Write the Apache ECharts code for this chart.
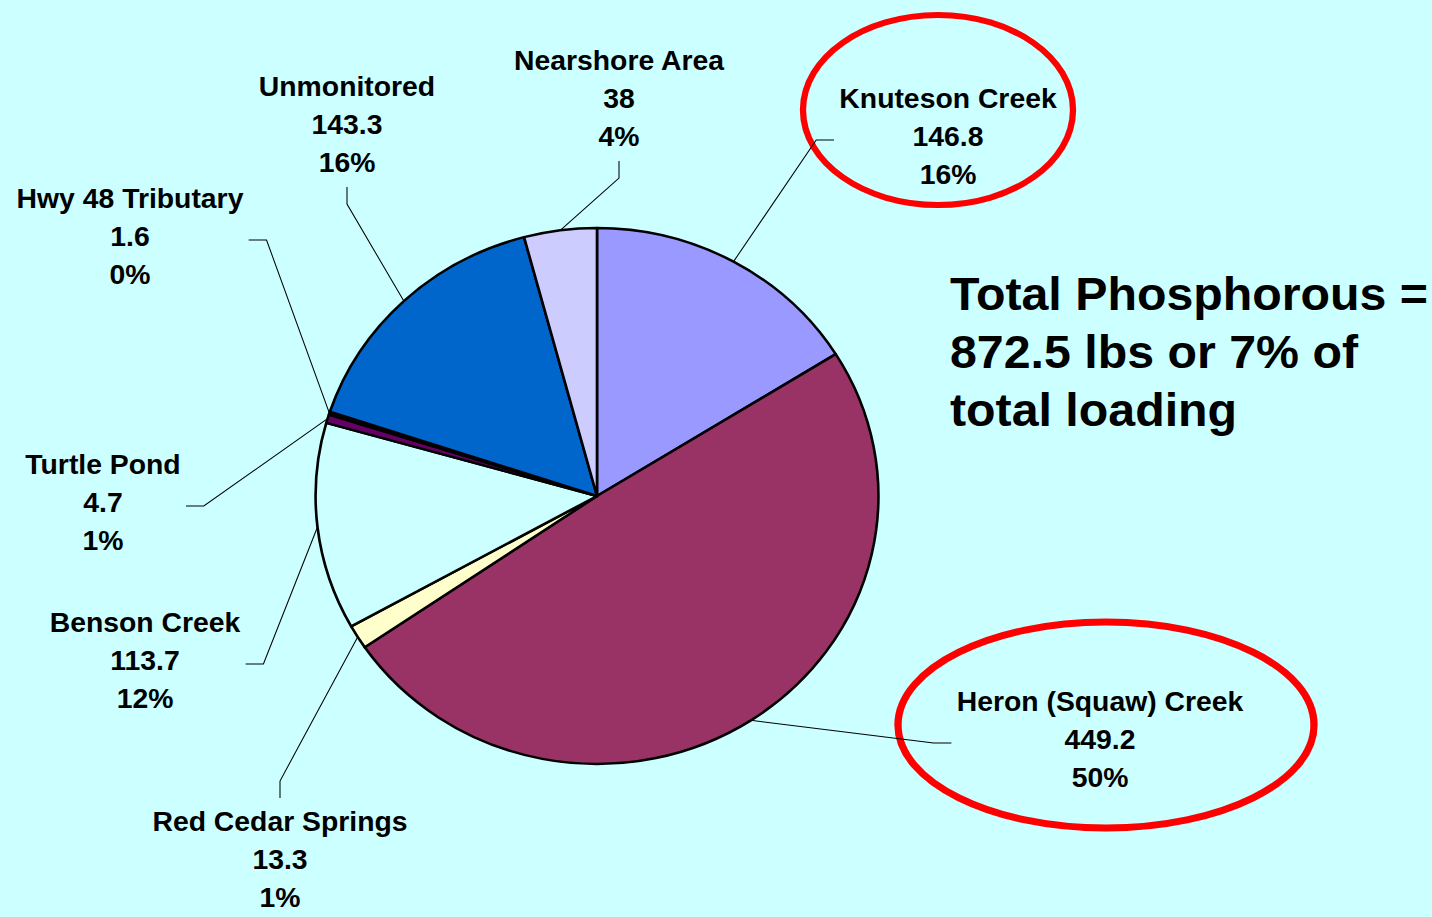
<!DOCTYPE html>
<html>
<head>
<meta charset="utf-8">
<script src="https://cdn.jsdelivr.net/npm/echarts@6/dist/echarts.min.js"></script>
<style>
html, body { margin: 0; padding: 0; background: #CCFFFF; overflow: hidden; }
/* the original slide is a little wider than tall, so stretch the drawing sideways */
#main { width: 1364px; height: 917px; transform: scaleX(1.05); transform-origin: 0 0; }
</style>
</head>
<body>
<div id="main"></div>
<script>
// sources, clockwise from 12 o'clock
var names = ['Knuteson Creek', 'Heron (Squaw) Creek', 'Red Cedar Springs', 'Benson Creek',
    'Turtle Pond', 'Hwy 48 Tributary', 'Unmonitored', 'Nearshore Area']
var loads = [146.8, 449.2, 13.3, 113.7, 4.7, 1.6, 143.3, 38]
var shares = ['16%', '50%', '1%', '12%', '1%', '0%', '16%', '4%']
var colors = ['#9999FF', '#993366', '#FFFFCC', '#CCFFFF', '#660066', '#222222', '#0066CC', '#CCCCFF']

var SX = 1.05 // horizontal stretch of the page
function px(x) { return x / SX }

// where each label block sits (center, page pixels)
var labelPos = [[948, 137], [1100, 740], [280, 860], [145, 661], [103, 503], [130, 237], [347, 125], [619, 99]]

var font = "'Liberation Sans', Arial, sans-serif"

var chart = echarts.init(document.getElementById('main'), null, { renderer: 'svg' })

var pieData = names.map(function (n, i) {
    return { name: n, value: loads[i], itemStyle: { color: colors[i] } }
})

// put label at its spot and run the leader line from the slice edge to it
function layoutLabel(params) {
    var i = params.dataIndex
    var cx = px(labelPos[i][0]), cy = labelPos[i][1]
    var res = { x: cx, y: cy, align: 'center', verticalAlign: 'middle' }
    var pts = params.labelLinePoints
    if (pts && pts[0]) {
        var a = [pts[0][0], pts[0][1]]
        var w = params.labelRect.width, h = params.labelRect.height
        var dx = cx - a[0], dy = cy - a[1]
        var end, bend
        if (Math.abs(dx) > Math.abs(dy)) {
            var s = dx > 0 ? -1 : 1
            end = [cx + s * (w / 2 + 5), cy + 3]
            bend = [end[0] + s * 17, cy + 3]
        } else {
            var t = dy > 0 ? -1 : 1
            end = [cx, cy + t * (h / 2 + 5)]
            bend = [cx, end[1] + t * 17]
        }
        res.labelLinePoints = [a, bend, end]
    }
    return res
}

chart.setOption({
    backgroundColor: '#CCFFFF',
    animation: false,
    title: {
        text: 'Total Phosphorous =\n872.5 lbs or 7% of\ntotal loading',
        left: px(950),
        top: 265,
        padding: 0,
        textStyle: {
            fontFamily: font,
            fontSize: 46,
            fontWeight: 'bold',
            lineHeight: 58,
            color: '#000'
        }
    },
    graphic: [
        {
            type: 'ellipse',
            shape: { cx: px(938), cy: 110, rx: px(135), ry: 95 },
            style: { fill: 'none', stroke: '#FF0000', lineWidth: 6 },
            z: 1
        },
        {
            type: 'ellipse',
            shape: { cx: px(1106), cy: 725, rx: px(208), ry: 103 },
            style: { fill: 'none', stroke: '#FF0000', lineWidth: 7 },
            z: 1
        }
    ],
    series: [{
        type: 'pie',
        center: [px(597), 496],
        radius: 268,
        startAngle: 90,
        clockwise: true,
        avoidLabelOverlap: false,
        data: pieData,
        itemStyle: { borderColor: '#000', borderWidth: 2.5 },
        emphasis: { disabled: true },
        label: {
            show: true,
            position: 'outside',
            fontFamily: font,
            fontSize: 27,
            fontWeight: 'bold',
            lineHeight: 38,
            color: '#000',
            align: 'center',
            formatter: function (p) {
                return p.name + '\n' + p.value + '\n' + shares[p.dataIndex]
            }
        },
        labelLine: {
            show: true,
            length: 20,
            length2: 20,
            lineStyle: { color: '#000', width: 1 }
        },
        labelLayout: layoutLabel
    }]
})
</script>
</body>
</html>
